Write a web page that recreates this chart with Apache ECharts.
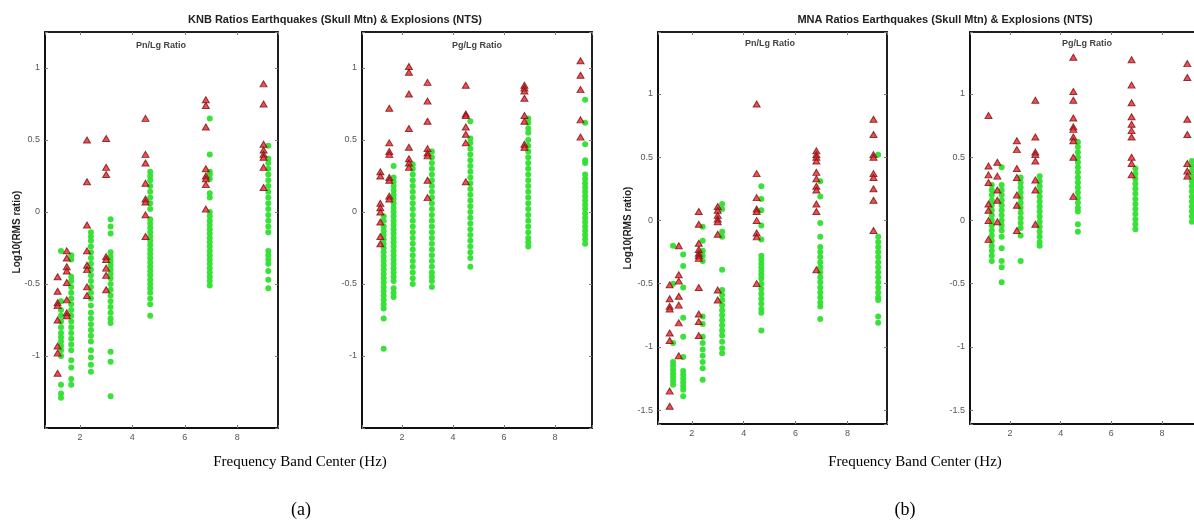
<!DOCTYPE html>
<html>
<head>
<meta charset="utf-8">
<script src="https://cdn.jsdelivr.net/npm/echarts@6/dist/echarts.min.js"></script>
<style>
  html, body { margin: 0; padding: 0; background: #fff; overflow: hidden; width: 1194px; height: 525px; }
  /* the last panel runs past the right edge of the page */
  #chart { width: 1212px; height: 525px; }
</style>
</head>
<body>
<div id="chart"></div>
<script>
// Frequency band centres (Hz); earthquakes and explosions are offset slightly
const quakeFreq = [1.15, 1.5, 2.27, 3.0, 4.5, 6.8, 9.0];
const blastFreq = [1.28, 1.67, 2.42, 3.17, 4.68, 6.95, 9.18];

// Tick labels
const freqTicks = [2, 4, 6, 8];
const knbTicks = [-1, -0.5, 0, 0.5, 1];
const mnaTicks = [-1.5, -1, -0.5, 0, 0.5, 1];

// KNB Pn/Lg, log10 RMS ratio per band
const knbPnQuake = [
  [-0.45, -0.55, -0.63, -0.65, -0.75, -0.93, -0.98, -1.12],
  [-0.27, -0.32, -0.38, -0.41, -0.49, -0.61, -0.7, -0.72],
  [0.5, 0.21, -0.09, -0.27, -0.37, -0.4, -0.52, -0.58],
  [0.51, 0.31, 0.26, -0.31, -0.33, -0.39, -0.44, -0.54],
  [0.65, 0.4, 0.34, 0.2, 0.09, 0.07, -0.02, -0.17],
  [0.78, 0.74, 0.59, 0.3, 0.25, 0.23, 0.19, 0.02],
  [0.89, 0.75, 0.47, 0.43, 0.4, 0.38, 0.31, 0.17]
];
const knbPnBlast = [
  [-0.27, -0.62, -0.68, -0.72, -0.76, -0.8, -0.84, -0.87, -0.9, -0.93, -0.96, -1.0, -1.2, -1.26, -1.29],
  [-0.3, -0.33, -0.45, -0.48, -0.52, -0.56, -0.6, -0.64, -0.68, -0.72, -0.76, -0.8, -0.84, -0.88, -0.92, -0.96, -1.03, -1.08, -1.16, -1.2],
  [-0.14, -0.17, -0.2, -0.24, -0.28, -0.32, -0.36, -0.4, -0.44, -0.48, -0.52, -0.56, -0.6, -0.65, -0.7, -0.74, -0.78, -0.82, -0.86, -0.9, -0.96, -1.01, -1.06, -1.11],
  [-0.05, -0.1, -0.15, -0.28, -0.31, -0.34, -0.37, -0.4, -0.43, -0.46, -0.5, -0.54, -0.58, -0.62, -0.66, -0.7, -0.74, -0.77, -0.97, -1.04, -1.28],
  [0.28, 0.25, 0.22, 0.18, 0.14, 0.1, 0.06, 0.02, -0.05, -0.08, -0.11, -0.14, -0.17, -0.2, -0.23, -0.26, -0.29, -0.32, -0.35, -0.38, -0.41, -0.44, -0.47, -0.5, -0.53, -0.56, -0.6, -0.64, -0.72],
  [0.65, 0.4, 0.28, 0.26, 0.23, 0.13, 0.1, 0.0, -0.03, -0.06, -0.09, -0.12, -0.15, -0.18, -0.21, -0.24, -0.27, -0.3, -0.33, -0.36, -0.39, -0.42, -0.45, -0.48, -0.51],
  [0.46, 0.37, 0.34, 0.3, 0.26, 0.22, 0.18, 0.14, 0.1, 0.06, 0.02, -0.02, -0.06, -0.1, -0.14, -0.27, -0.3, -0.33, -0.36, -0.41, -0.47, -0.53]
];

// KNB Pg/Lg
const knbPgQuake = [
  [0.28, 0.25, 0.06, 0.03, 0.0, -0.07, -0.17, -0.22],
  [0.72, 0.48, 0.42, 0.4, 0.24, 0.22, 0.11, 0.09],
  [1.01, 0.97, 0.82, 0.58, 0.45, 0.37, 0.34, 0.31],
  [0.9, 0.77, 0.63, 0.44, 0.41, 0.39, 0.22, 0.1],
  [0.88, 0.68, 0.67, 0.59, 0.54, 0.48, 0.21],
  [0.88, 0.86, 0.84, 0.79, 0.67, 0.63, 0.47, 0.45],
  [1.05, 0.95, 0.85, 0.64, 0.52]
];
const knbPgBlast = [
  [-0.03, -0.06, -0.1, -0.13, -0.16, -0.19, -0.22, -0.25, -0.28, -0.31, -0.34, -0.37, -0.4, -0.43, -0.46, -0.49, -0.52, -0.55, -0.58, -0.61, -0.64, -0.67, -0.74, -0.95],
  [0.32, 0.24, 0.21, 0.18, 0.15, 0.12, 0.09, 0.06, 0.03, 0.0, -0.03, -0.06, -0.09, -0.12, -0.15, -0.18, -0.21, -0.24, -0.27, -0.3, -0.33, -0.36, -0.39, -0.42, -0.45, -0.48, -0.53, -0.56, -0.59],
  [0.33, 0.3, 0.26, 0.22, 0.18, 0.14, 0.1, 0.06, 0.02, -0.02, -0.06, -0.1, -0.14, -0.18, -0.22, -0.26, -0.3, -0.34, -0.38, -0.42, -0.46, -0.5],
  [0.42, 0.38, 0.34, 0.3, 0.26, 0.22, 0.18, 0.14, 0.1, 0.06, 0.02, -0.02, -0.06, -0.1, -0.14, -0.18, -0.22, -0.26, -0.3, -0.34, -0.38, -0.42, -0.45, -0.48, -0.52],
  [0.63, 0.51, 0.48, 0.44, 0.4, 0.36, 0.32, 0.28, 0.24, 0.2, 0.16, 0.12, 0.08, 0.04, 0.0, -0.04, -0.08, -0.12, -0.16, -0.2, -0.24, -0.28, -0.32, -0.38],
  [0.65, 0.62, 0.58, 0.55, 0.5, 0.46, 0.42, 0.38, 0.34, 0.3, 0.26, 0.22, 0.18, 0.14, 0.1, 0.06, 0.02, -0.02, -0.06, -0.1, -0.14, -0.18, -0.21, -0.24],
  [0.78, 0.62, 0.47, 0.36, 0.34, 0.26, 0.23, 0.2, 0.17, 0.14, 0.11, 0.08, 0.05, 0.02, -0.01, -0.04, -0.07, -0.1, -0.13, -0.16, -0.19, -0.22]
];

// MNA Pn/Lg
const mnaPnQuake = [
  [-0.51, -0.62, -0.68, -0.7, -0.89, -0.95, -1.35, -1.47],
  [-0.2, -0.43, -0.48, -0.6, -0.67, -0.81, -1.07],
  [0.07, -0.03, -0.18, -0.23, -0.26, -0.28, -0.3, -0.53, -0.74, -0.8, -0.91],
  [0.11, 0.08, 0.04, 0.01, -0.01, -0.11, -0.55, -0.63],
  [0.92, 0.37, 0.18, 0.09, 0.07, 0.0, -0.1, -0.13, -0.5],
  [0.55, 0.52, 0.5, 0.47, 0.38, 0.33, 0.27, 0.24, 0.13, 0.07, -0.39],
  [0.8, 0.68, 0.52, 0.5, 0.37, 0.34, 0.25, 0.16, -0.08]
];
const mnaPnBlast = [
  [-0.2, -0.5, -0.97, -1.12, -1.15, -1.18, -1.21, -1.24, -1.27, -1.3],
  [-0.27, -0.36, -0.53, -0.77, -0.92, -1.08, -1.19, -1.22, -1.25, -1.28, -1.31, -1.34, -1.39],
  [-0.05, -0.16, -0.24, -0.28, -0.32, -0.76, -0.82, -0.92, -0.97, -1.02, -1.07, -1.12, -1.17, -1.26],
  [0.13, 0.09, -0.09, -0.13, -0.39, -0.55, -0.59, -0.63, -0.67, -0.71, -0.75, -0.79, -0.83, -0.87, -0.91, -0.96, -1.01, -1.05],
  [0.27, 0.17, 0.08, -0.04, -0.15, -0.28, -0.31, -0.34, -0.37, -0.4, -0.43, -0.46, -0.5, -0.54, -0.58, -0.62, -0.66, -0.7, -0.73, -0.87],
  [0.31, 0.19, -0.02, -0.13, -0.21, -0.25, -0.29, -0.33, -0.37, -0.41, -0.45, -0.49, -0.53, -0.57, -0.61, -0.65, -0.68, -0.78],
  [0.52, -0.13, -0.17, -0.21, -0.25, -0.29, -0.33, -0.37, -0.41, -0.45, -0.49, -0.53, -0.57, -0.61, -0.63, -0.76, -0.81]
];

// MNA Pg/Lg
const mnaPgQuake = [
  [0.83, 0.43, 0.36, 0.3, 0.13, 0.08, 0.0, -0.15],
  [0.46, 0.35, 0.24, 0.16, -0.01],
  [0.63, 0.56, 0.41, 0.34, 0.2, 0.12, -0.08],
  [0.95, 0.66, 0.54, 0.52, 0.47, 0.32, 0.24, -0.03],
  [1.29, 1.02, 0.95, 0.81, 0.74, 0.72, 0.66, 0.63, 0.5, 0.19],
  [1.27, 1.07, 0.93, 0.82, 0.76, 0.71, 0.66, 0.5, 0.45, 0.36],
  [1.24, 1.13, 0.8, 0.68, 0.45, 0.39, 0.35]
];
const mnaPgBlast = [
  [0.28, 0.24, 0.2, 0.16, 0.12, 0.08, 0.04, 0.0, -0.04, -0.08, -0.12, -0.16, -0.2, -0.24, -0.28, -0.32],
  [0.42, 0.28, 0.24, 0.2, 0.16, 0.12, 0.08, 0.04, 0.0, -0.04, -0.08, -0.13, -0.22, -0.32, -0.37, -0.49],
  [0.34, 0.3, 0.26, 0.22, 0.18, 0.14, 0.1, 0.06, 0.02, -0.02, -0.06, -0.12, -0.32],
  [0.35, 0.31, 0.27, 0.23, 0.19, 0.15, 0.11, 0.07, 0.03, -0.01, -0.05, -0.09, -0.13, -0.17, -0.2],
  [0.62, 0.58, 0.54, 0.5, 0.46, 0.42, 0.38, 0.34, 0.3, 0.26, 0.22, 0.18, 0.14, 0.1, 0.07, -0.03, -0.09],
  [0.41, 0.37, 0.33, 0.29, 0.25, 0.21, 0.17, 0.13, 0.09, 0.05, 0.01, -0.03, -0.07],
  [0.47, 0.43, 0.39, 0.35, 0.31, 0.27, 0.23, 0.19, 0.15, 0.11, 0.07, 0.03, -0.01]
];

// ---- layout of the four panels ----
const panels = [
  { quake: knbPnQuake, blast: knbPnBlast, ticks: knbTicks, rect: { left: 45, top: 32, width: 233, height: 396 }, x: [0.67, 9.55], y: [-1.5, 1.25] },
  { quake: knbPgQuake, blast: knbPgBlast, ticks: knbTicks, rect: { left: 362, top: 32, width: 230, height: 396 }, x: [0.43, 9.45], y: [-1.5, 1.25] },
  { quake: mnaPnQuake, blast: mnaPnBlast, ticks: mnaTicks, rect: { left: 658, top: 32, width: 229, height: 392 }, x: [0.7, 9.52], y: [-1.61, 1.49] },
  { quake: mnaPgQuake, blast: mnaPgBlast, ticks: mnaTicks, rect: { left: 970, top: 32, width: 232, height: 392 }, x: [0.42, 9.58], y: [-1.61, 1.49] }
];

const SANS = 'Liberation Sans, Arial, sans-serif';
const SERIF = 'Liberation Serif, Times New Roman, serif';

function toPoints(freqs, groups) {
  const pts = [];
  groups.forEach((vals, i) => vals.forEach(v => pts.push([freqs[i], v])));
  return pts;
}

function onlyTicks(list) {
  return v => list.some(t => Math.abs(t - v) < 1e-6) ? String(v) : '';
}

const grid = [], xAxis = [], yAxis = [], series = [];

panels.forEach((p, k) => {
  grid.push(Object.assign({ show: true, borderColor: '#111', borderWidth: 1.5, backgroundColor: '#fff' }, p.rect));

  const tickStyle = { show: true, inside: true, length: 3, lineStyle: { color: '#777', width: 1 } };
  // main bottom / left axes with labels
  xAxis.push({
    type: 'value', gridIndex: k, position: 'bottom', min: p.x[0], max: p.x[1],
    splitNumber: 4, splitLine: { show: false },
    axisLine: { show: true, onZero: false, lineStyle: { color: '#111', width: 2 } },
    axisTick: tickStyle,
    axisLabel: { show: true, margin: 5, fontSize: 9, color: '#555', fontFamily: SANS, formatter: onlyTicks(freqTicks) }
  });
  yAxis.push({
    type: 'value', gridIndex: k, position: 'left', min: p.y[0], max: p.y[1],
    splitNumber: 6, splitLine: { show: false },
    axisLine: { show: true, onZero: false, lineStyle: { color: '#111', width: 2 } },
    axisTick: tickStyle,
    axisLabel: { show: true, margin: 5, fontSize: 9, color: '#555', fontFamily: SANS, formatter: onlyTicks(p.ticks) }
  });
  // box axes on top / right carrying only inward ticks
  xAxis.push({
    type: 'value', gridIndex: k, position: 'top', min: p.x[0], max: p.x[1],
    splitNumber: 4, splitLine: { show: false },
    axisLine: { show: true, onZero: false, lineStyle: { color: '#111', width: 1.5 } },
    axisTick: tickStyle, axisLabel: { show: false }
  });
  yAxis.push({
    type: 'value', gridIndex: k, position: 'right', min: p.y[0], max: p.y[1],
    splitNumber: 6, splitLine: { show: false },
    axisLine: { show: true, onZero: false, lineStyle: { color: '#111', width: 1.5 } },
    axisTick: tickStyle, axisLabel: { show: false }
  });

  series.push({
    type: 'scatter', name: 'Explosions', xAxisIndex: 2 * k, yAxisIndex: 2 * k,
    data: toPoints(blastFreq, p.blast), symbol: 'circle', symbolSize: 6,
    itemStyle: { color: '#2ee02e', opacity: 0.95 }, silent: true, z: 2
  });
  series.push({
    type: 'scatter', name: 'Earthquakes', xAxisIndex: 2 * k, yAxisIndex: 2 * k,
    data: toPoints(quakeFreq, p.quake), symbol: 'triangle', symbolSize: [7, 6],
    itemStyle: { color: '#e8242a', borderColor: '#7a1010', borderWidth: 1 }, silent: true, z: 3
  });
});

function text(x, y, str, style, extra) {
  return Object.assign({
    type: 'text', x: x, y: y, z: 100,
    style: Object.assign({ text: str, fill: '#222', align: 'center', verticalAlign: 'middle' }, style)
  }, extra || {});
}

const graphic = [
  text(335, 20, 'KNB Ratios Earthquakes (Skull Mtn) & Explosions (NTS)', { font: 'bold 11px ' + SANS }),
  text(945, 20, 'MNA Ratios Earthquakes (Skull Mtn) & Explosions (NTS)', { font: 'bold 11px ' + SANS }),
  text(161, 46, 'Pn/Lg Ratio', { font: 'bold 9px ' + SANS, fill: '#444' }),
  text(477, 46, 'Pg/Lg Ratio', { font: 'bold 9px ' + SANS, fill: '#444' }),
  text(770, 44, 'Pn/Lg Ratio', { font: 'bold 9px ' + SANS, fill: '#444' }),
  text(1087, 44, 'Pg/Lg Ratio', { font: 'bold 9px ' + SANS, fill: '#444' }),
  text(0, 0, 'Log10(RMS ratio)', { font: 'bold 10px ' + SANS }, { x: 17, y: 232, rotation: Math.PI / 2 }),
  text(0, 0, 'Log10(RMS ratio)', { font: 'bold 10px ' + SANS }, { x: 628, y: 228, rotation: Math.PI / 2 }),
  text(300, 462, 'Frequency Band Center (Hz)', { font: '15px ' + SERIF, fill: '#000' }),
  text(915, 462, 'Frequency Band Center (Hz)', { font: '15px ' + SERIF, fill: '#000' }),
  text(301, 510, '(a)', { font: '18px ' + SERIF, fill: '#000' }),
  text(905, 510, '(b)', { font: '18px ' + SERIF, fill: '#000' })
];

const chart = echarts.init(document.getElementById('chart'), null, { renderer: 'canvas' });
chart.setOption({
  backgroundColor: '#fff',
  animation: false,
  grid: grid,
  xAxis: xAxis,
  yAxis: yAxis,
  series: series,
  graphic: graphic
});
</script>
</body>
</html>
